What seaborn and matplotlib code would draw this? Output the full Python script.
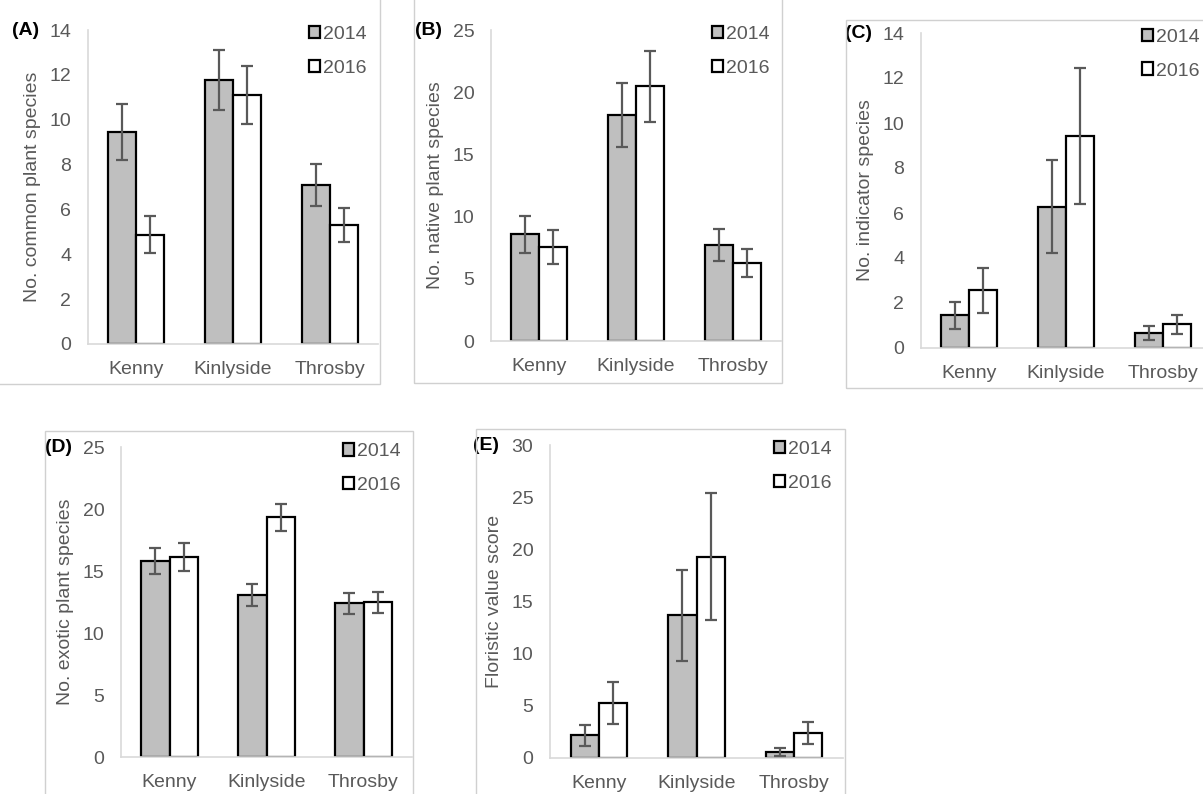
import pandas as pd
import numpy as np
import matplotlib.pyplot as plt
import seaborn as sns
from matplotlib.patches import Patch, Rectangle

sites = ["Kenny", "Kinlyside", "Throsby"]
years = ["2014", "2016"]

# panel values (mean, +/- error)
common_2014 = [9.47, 11.77, 7.09]
common_2016 = [4.87, 11.10, 5.30]
common_err_2014 = [1.25, 1.35, 0.92]
common_err_2016 = [0.83, 1.30, 0.77]

native_2014 = [8.58, 18.16, 7.70]
native_2016 = [7.56, 20.49, 6.28]
native_err_2014 = [1.50, 2.55, 1.30]
native_err_2016 = [1.37, 2.85, 1.10]

indicator_2014 = [1.45, 6.28, 0.67]
indicator_2016 = [2.57, 9.43, 1.05]
indicator_err_2014 = [0.61, 2.07, 0.30]
indicator_err_2016 = [1.00, 3.03, 0.43]

exotic_2014 = [15.81, 13.09, 12.39]
exotic_2016 = [16.10, 19.33, 12.47]
exotic_err_2014 = [1.08, 0.90, 0.83]
exotic_err_2016 = [1.13, 1.10, 0.87]

floristic_2014 = [2.17, 13.66, 0.57]
floristic_2016 = [5.27, 19.31, 2.39]
floristic_err_2014 = [1.00, 4.40, 0.40]
floristic_err_2016 = [2.04, 6.05, 1.04]

sns.set_style("white")
plt.rcParams['font.family'] = ['Liberation Sans', 'DejaVu Sans']

W, H = 1203, 794
fig = plt.figure(figsize=(W / 100, H / 100), dpi=100)
fig.patch.set_facecolor("white")

txt = "#595959"
grid = "#d9d9d9"
colors = {"2014": "#bfbfbf", "2016": "white"}
fs = 14


def px_axes(left, right, top, bottom):
    return fig.add_axes([left / W, 1 - bottom / H, (right - left) / W, (bottom - top) / H])


def frame(x0, y0, x1, y1):
    fig.patches.append(Rectangle((x0 / W, 1 - y1 / H), (x1 - x0) / W, (y1 - y0) / H,
                                 transform=fig.transFigure, fill=False,
                                 edgecolor="#d0d0d0", linewidth=1, zorder=0))


# panel frames
frame(-5, -5, 380, 384)
frame(414, -5, 782, 383)
frame(846, 20, 1210, 388)
frame(45, 431, 413, 800)
frame(476, 429, 845, 800)

panels = [
    ("(A)", "No. common plant species", common_2014, common_2016, common_err_2014, common_err_2016,
     14, 2, (88, 378, 30, 344)),
    ("(B)", "No. native plant species", native_2014, native_2016, native_err_2014, native_err_2016,
     25, 5, (491, 781, 30, 341)),
    ("(C)", "No. indicator species", indicator_2014, indicator_2016, indicator_err_2014, indicator_err_2016,
     14, 2, (921, 1211, 33, 348)),
    ("(D)", "No. exotic plant species", exotic_2014, exotic_2016, exotic_err_2014, exotic_err_2016,
     25, 5, (121, 412, 447, 757)),
    ("(E)", "Floristic value score", floristic_2014, floristic_2016, floristic_err_2014, floristic_err_2016,
     30, 5, (550, 843, 445, 758)),
]

for tag, ylab, v14, v16, e14, e16, ymax, step, box in panels:
    ax = px_axes(*box)
    df = pd.DataFrame({"site": sites * 2,
                       "year": ["2014"] * 3 + ["2016"] * 3,
                       "value": v14 + v16})
    sns.barplot(data=df, x="site", y="value", hue="year", order=sites, hue_order=years,
                palette=colors, edgecolor="black", linewidth=1.6, width=0.58,
                errorbar=None, legend=False, ax=ax, zorder=2)
    for cont, errs in zip(ax.containers, [e14, e16]):
        for bar, e in zip(cont, errs):
            ax.errorbar(bar.get_x() + bar.get_width() / 2, bar.get_height(), yerr=e,
                        fmt="none", ecolor="#595959", elinewidth=1.6, capsize=4.2,
                        capthick=1.6, zorder=3)
    ax.set_ylim(0, ymax)
    ax.set_xlim(-0.5, 2.5)
    ax.set_yticks(np.arange(0, ymax + 0.1, step))
    ax.set_xlabel("")
    ax.set_ylabel(ylab, color=txt, fontsize=fs, labelpad=6)
    ax.tick_params(axis="y", colors=txt, labelsize=fs, length=0, pad=12)
    ax.tick_params(axis="x", colors=txt, labelsize=fs, length=0, pad=12)
    ax.set_facecolor("none")
    for s in ["top", "right"]:
        ax.spines[s].set_visible(False)
    for s in ["left", "bottom"]:
        ax.spines[s].set_color(grid)
        ax.spines[s].set_linewidth(1.2)
    ax.text(-0.262, 1.0, tag, transform=ax.transAxes, fontsize=fs, fontweight="bold",
            color="black", ha="left", va="center")
    handles = [Patch(facecolor=colors[y], edgecolor="black", linewidth=1.6, label=y) for y in years]
    leg = ax.legend(handles=handles, loc="upper right", bbox_to_anchor=(1.0, 1.05),
                    frameon=False, fontsize=fs, handlelength=0.6, handleheight=0.6,
                    handletextpad=0.12, labelspacing=0.85, borderaxespad=0.2)
    for t in leg.get_texts():
        t.set_color(txt)

fig.savefig("out.png", dpi=100, facecolor="white")
